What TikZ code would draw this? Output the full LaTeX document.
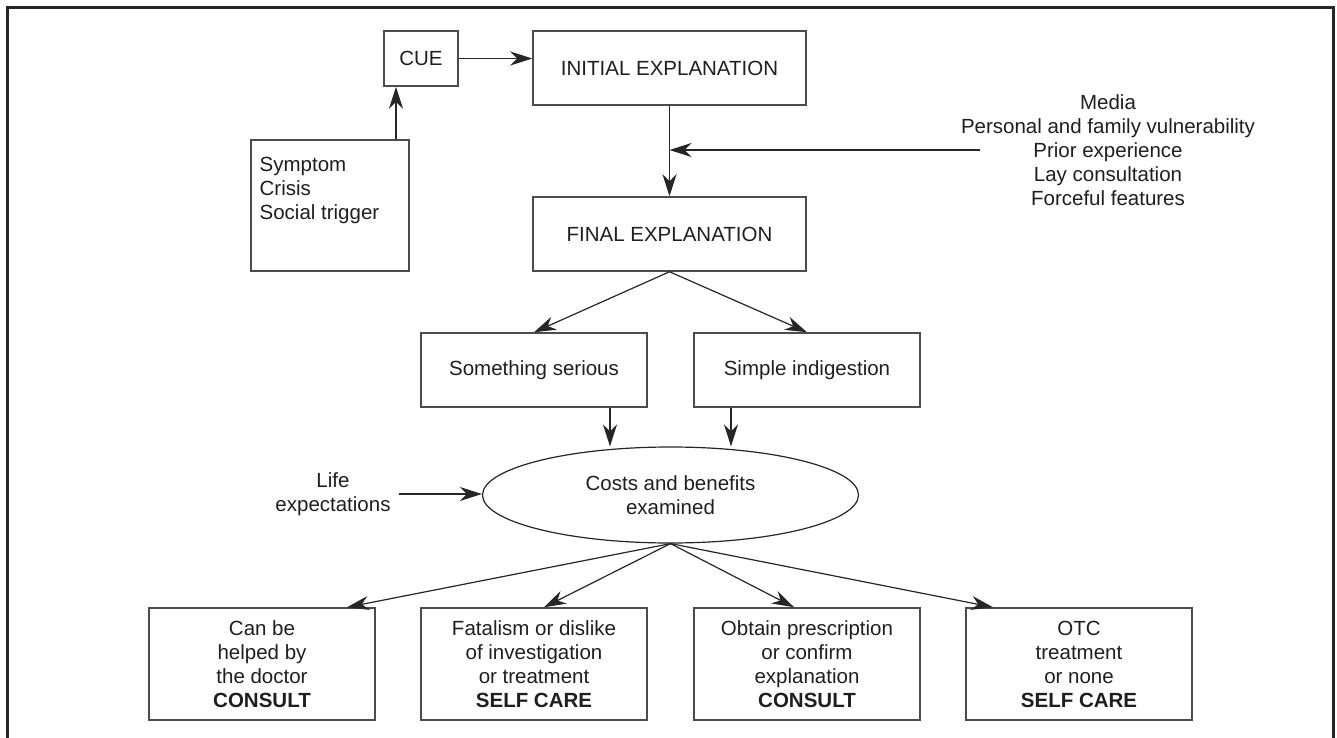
\documentclass[tikz,border=0pt]{standalone}
\usepackage{fontspec}
\setmainfont{Liberation Sans}
\usepackage{xcolor}
\usetikzlibrary{shapes.geometric, arrows.meta, positioning, calc}

\begin{document}
\begin{tikzpicture}[x=0.5pt,y=-0.5pt,font=\fontsize{10.25}{12}\selectfont,text=black!88]
\tikzset{
  bx/.style={rectangle,draw=black!70,line width=0.75pt,minimum width=113pt,minimum height=37pt,align=center,inner sep=2pt},
  ob/.style={bx,minimum height=56pt},
  el/.style={ellipse,draw=black!85,line width=0.6pt,minimum width=188pt,minimum height=48pt,align=center,inner sep=0pt},
  ar/.style={-{Stealth[length=11pt,width=7pt,inset=3.5pt]},line width=0.6pt,draw=black!85},
  tx/.style={align=center,inner sep=0pt}
}
\useasboundingbox (0,0) rectangle (1337,738);
\draw[line width=1.5pt,draw=black!85] (7,738) -- (7,8) -- (1333,8) -- (1333,738);
% upper part
\node[bx,minimum width=37pt,minimum height=27.5pt] (cue) at (421,58.5) {CUE};
\node[bx,minimum width=136.5pt] (init) at (669.5,68) {INITIAL EXPLANATION};
\node[bx,minimum width=79pt,minimum height=65.5pt] (sym) at (330,205.5) {};
\node[tx,align=left,anchor=north west] (symtxt) at ([xshift=4.5pt,yshift=-9pt]sym.north west) {Symptom\\Crisis\\Social trigger};
\node[bx,minimum width=136.5pt] (final) at (669.5,234) {FINAL EXPLANATION};
\node[tx] (infl) at (1108,150) {Media\\Personal and family vulnerability\\Prior experience\\Lay consultation\\Forceful features};
\draw[ar] (cue.east) -- (cue.east -| init.west);
\draw[ar] ([xshift=33pt]sym.north) -- ([xshift=-12.5pt]cue.south);
\draw[ar] (init.south) -- (final.north);
\draw[ar] ([xshift=9.5pt]infl.west) -- (init.south |- infl.west);
% explanations
\node[bx] (serious) at (534,370) {Something serious};
\node[bx] (simple) at (807,370) {Simple indigestion};
\draw[ar] (final.south) -- (serious.north);
\draw[ar] (final.south) -- (simple.north);
\node[el] (cost) at (670.5,495) {Costs and benefits\\examined};
\node[tx] (life) at (333,494) {Life\\expectations};
\coordinate (s1) at ([xshift=38pt]serious.south);
\coordinate (s2) at ([xshift=-38pt]simple.south);
\draw[ar] (s1) -- (s1 |- cost.north);
\draw[ar] (s2) -- (s2 |- cost.north);
\draw[ar] ([xshift=4pt]life.east) -- (cost.west |- life.east);
% outcomes
\node[ob] (o1) at (262,664) {Can be\\helped by\\the doctor\\\textbf{CONSULT}};
\node[ob] (o2) at (534,664) {Fatalism or dislike\\of investigation\\or treatment\\\textbf{SELF CARE}};
\node[ob] (o3) at (807,664) {Obtain prescription\\or confirm\\explanation\\\textbf{CONSULT}};
\node[ob] (o4) at (1079,664) {OTC\\treatment\\or none\\\textbf{SELF CARE}};
\foreach \b/\s in {o1/42.5pt,o2/5pt,o3/-6.5pt,o4/-43pt}{\draw[ar] (cost.south) -- ([xshift=\s]\b.north);}
\end{tikzpicture}
\end{document}
